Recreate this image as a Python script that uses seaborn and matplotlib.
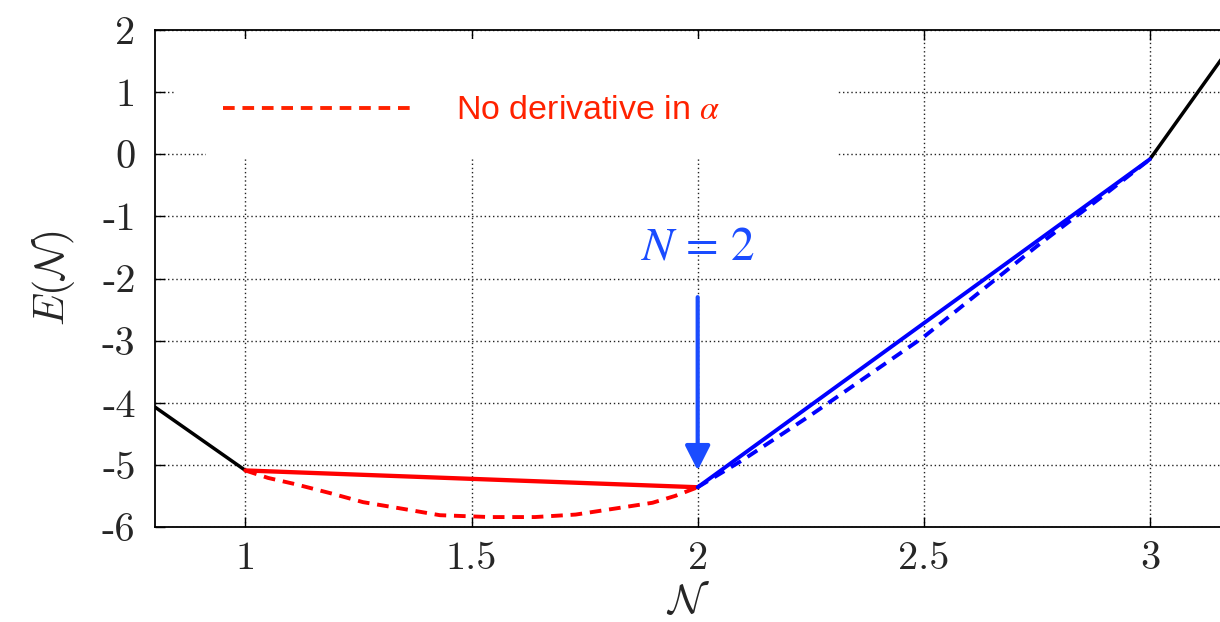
import numpy as np
import seaborn as sns
import matplotlib.pyplot as plt
import matplotlib.patches as patches
from matplotlib.lines import Line2D

# Data
left_x = [0.8, 1.0]
left_y = [-4.07, -5.09]
red_x = [1.0, 2.0]
red_y = [-5.09, -5.36]
red_dash_x = [1.0, 1.05, 1.11, 1.19, 1.26, 1.35, 1.43, 1.54, 1.64, 1.73, 1.82, 1.90, 1.95, 2.0]
red_dash_y = [-5.09, -5.21, -5.31, -5.46, -5.60, -5.71, -5.81, -5.84, -5.84, -5.80, -5.70, -5.61, -5.50, -5.36]
blue_x = [2.0, 3.0]
blue_y = [-5.36, -0.08]
blue_dash_x = [2.0, 2.1, 2.25, 2.5, 2.75, 2.9, 3.0]
blue_dash_y = [-5.36, -4.92, -4.20, -2.94, -1.48, -0.65, -0.08]
right_x = [3.0, 3.16]
right_y = [-0.08, 1.55]

x_ticks = [1, 1.5, 2, 2.5, 3]
x_tick_labels = ["1", "1.5", "2", "2.5", "3"]
y_ticks = [2, 1, 0, -1, -2, -3, -4, -5, -6]
y_tick_labels = ["2", "1", "0", "-1", "-2", "-3", "-4", "-5", "-6"]

RED = "#ff0000"
LEG_RED = "#ff2200"
BLUE = "#0000ff"
ARROW_BLUE = "#1a4cff"

sns.set_style("ticks")
plt.rcParams["mathtext.fontset"] = "cm"
plt.rcParams["font.family"] = ["DejaVu Sans"]

fig = plt.figure(figsize=(12.2, 6.22), dpi=100)
ax = fig.add_axes([155 / 1220, 1 - 527 / 622, 1 - 155 / 1220, (527 - 30) / 622])

LW = 2.8
dash = (0, (3.0, 2.0))

sns.lineplot(x=left_x, y=left_y, color="black", lw=LW - 0.3, ax=ax, estimator=None, zorder=3)
sns.lineplot(x=right_x, y=right_y, color="black", lw=LW - 0.3, ax=ax, estimator=None, zorder=3)
sns.lineplot(x=red_dash_x, y=red_dash_y, color=RED, lw=LW, ax=ax, estimator=None,
             linestyle=dash, zorder=3)
sns.lineplot(x=red_x, y=red_y, color=RED, lw=LW + 0.3, ax=ax, estimator=None, zorder=4)
sns.lineplot(x=blue_dash_x, y=blue_dash_y, color=BLUE, lw=LW, ax=ax, estimator=None,
             linestyle=dash, zorder=3)
sns.lineplot(x=blue_x, y=blue_y, color=BLUE, lw=LW, ax=ax, estimator=None, zorder=4)

ax.set_xlim(0.8, 3.155)
ax.set_ylim(-6, 2)

# grid
ax.set_axisbelow(True)
ax.grid(True, linestyle=(0, (1, 2)), color="#222222", lw=1.0)

# white key box hiding the grid
ax.add_patch(patches.Rectangle((0.841, 0.3), 2.31 - 0.841, 1.85 - 0.3,
                               facecolor="white", edgecolor="none", zorder=1))
ax.add_patch(patches.Rectangle((0.912, -0.06), 2.31 - 0.912, 0.4,
                               facecolor="white", edgecolor="none", zorder=1))

# ticks
ax.set_xticks(x_ticks)
ax.set_xticklabels(x_tick_labels, fontfamily="cmr10", fontsize=29)
ax.set_yticks(y_ticks)
ax.set_yticklabels(y_tick_labels, fontfamily="cmr10", fontsize=29)
ax.tick_params(axis="both", direction="in", length=7, width=1.0, color="black",
               top=True, right=False)
ax.tick_params(axis="x", pad=10)
ax.tick_params(axis="y", pad=14)
for side in ["left", "bottom", "top"]:
    ax.spines[side].set_linewidth(1.3)
    ax.spines[side].set_color("black")
ax.spines["right"].set_visible(False)

ax.set_xlabel(r"$\mathcal{N}$", fontsize=30, labelpad=2)
ax.set_ylabel(r"$E(\mathcal{N})$", fontsize=30, labelpad=18)

# key
handle = Line2D([], [], color=LEG_RED, lw=LW, linestyle=dash)
leg = ax.legend([handle], [r"No derivative in $\alpha$"], loc="upper left",
                bbox_to_anchor=(0.035, 0.93), frameon=False, handlelength=5.5,
                handletextpad=1.35, prop={"family": "Liberation Sans", "size": 24.5})
for t in leg.get_texts():
    t.set_color(LEG_RED)
    t.set_math_fontfamily("stix")

# arrow and label
ax.annotate("", xy=(2, -5.09), xytext=(2, -2.30),
            arrowprops=dict(arrowstyle="-|>,head_length=0.75,head_width=0.38",
                            mutation_scale=20, color=ARROW_BLUE, lw=3,
                            shrinkA=0, shrinkB=0), zorder=5)
txt = ax.text(2, -1.5, r"$N\,=\,2$", color=ARROW_BLUE, fontsize=34, ha="center", va="center")
txt.set_math_fontfamily("stix")

fig.savefig("out.png", dpi=100)
